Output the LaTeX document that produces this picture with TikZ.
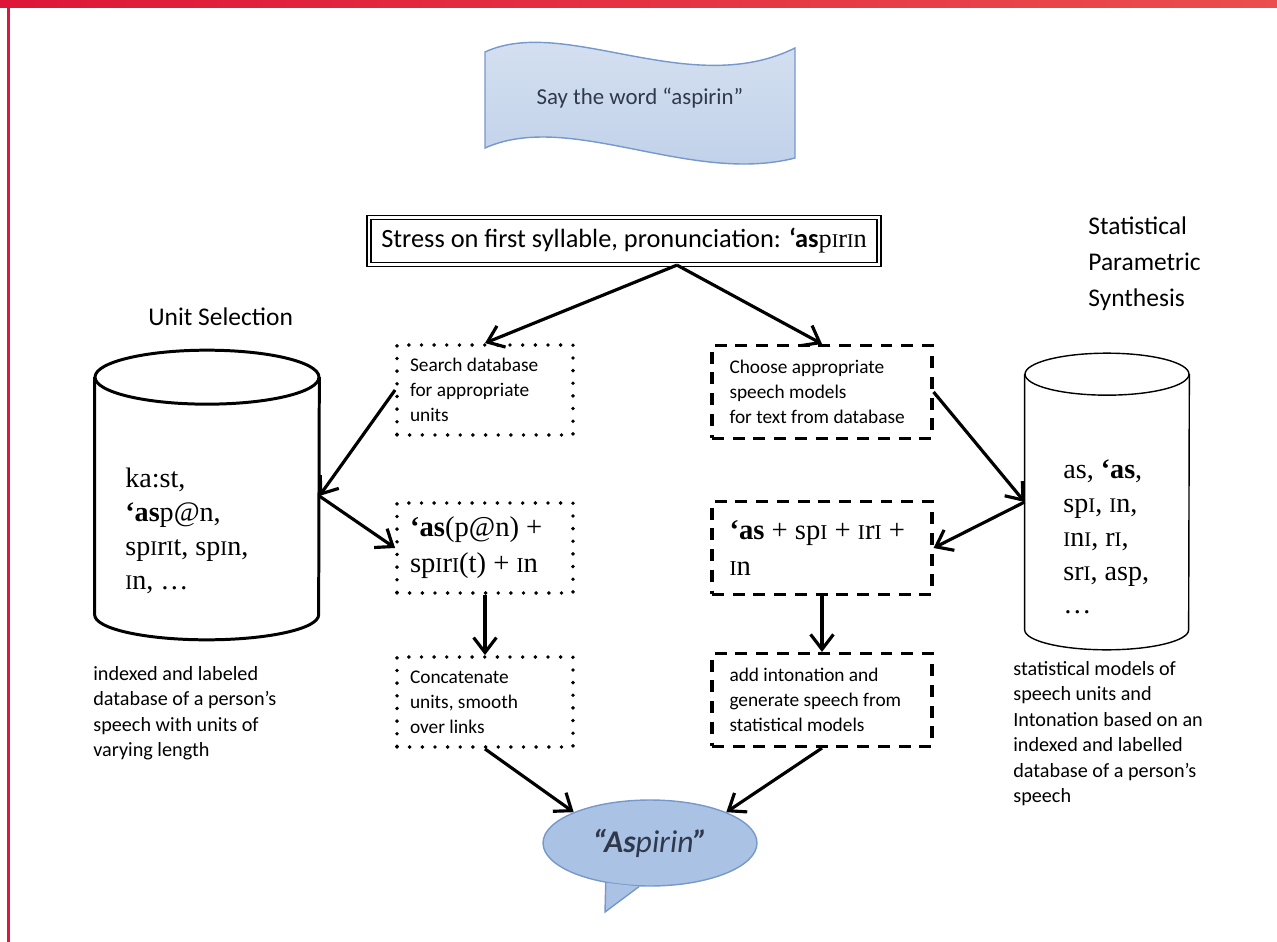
\documentclass[tikz,border=0pt]{standalone}
\usepackage{fontspec}
\setmainfont{Carlito}
\newfontfamily\phon{Liberation Serif}
\usetikzlibrary{shapes.geometric,arrows.meta}
\definecolor{framered}{RGB}{222,22,56}
\definecolor{framered2}{RGB}{234,78,78}
\definecolor{bannertop}{RGB}{216,227,242}
\definecolor{bannerbot}{RGB}{190,207,232}
\definecolor{blueline}{RGB}{118,152,204}
\definecolor{bubblefill}{RGB}{170,195,229}
\definecolor{slate}{RGB}{48,56,76}
\newcommand{\smI}{\scalebox{0.74}{I}}

\begin{document}
\begin{tikzpicture}[x=0.02cm,y=-0.02cm,
	arr/.style={line width=1.8pt,-{Straight Barb[length=8.5pt,width=13pt]}},
	dotbox/.style={draw,line width=2.2pt,dash pattern=on 0pt off 7.2pt,line cap=round,minimum width=3.52cm,minimum height=1.8cm,text width=3.0cm,align=flush left,inner sep=0pt,font=\fontsize{11}{14.2}\selectfont},
	dashbox/.style={draw,line width=1.8pt,dash pattern=on 6.8pt off 5pt,minimum width=4.4cm,minimum height=1.86cm,text width=3.7cm,align=flush left,inner sep=0pt,font=\fontsize{11}{14.2}\selectfont},
	phonbox/.style={font=\phon\fontsize{16.3}{20.5}\selectfont},
	heading/.style={align=left,inner sep=0pt,font=\fontsize{14.5}{20.5}\selectfont},
	descr/.style={align=left,inner sep=0pt,font=\fontsize{11.5}{14.5}\selectfont},
	dbtext/.style={align=left,inner sep=0pt,font=\phon\fontsize{16}{19.3}\selectfont}]
	\useasboundingbox (0,0) rectangle (1277,942);
	% frame
	\shade[left color=framered,right color=framered2] (0,0) rectangle (1277,8);
	\fill[framered] (7,0) rectangle (10,942);
	% banner
	\shade[top color=bannertop,bottom color=bannerbot,draw=blueline,line width=0.8pt]
		(485,52) .. controls (565,15) and (690,100) .. (795,48) -- (795,158)
		.. controls (690,185) and (570,110) .. (485,148) -- cycle;
	\node[text=slate,font=\fontsize{13}{15}\selectfont] (say) at (640,98) {Say the word “aspirin”};
	\node[draw,double,double distance=1.6pt,line width=0.7pt,minimum width=10.2cm,minimum height=0.94cm,inner sep=0pt,font=\fontsize{15}{17}\selectfont] (stress) at (624,241)
		{Stress on first syllable, pronunciation: \textbf{‘as}{\phon p\smI r\smI n}};
	\coordinate (split) at ([xshift=1.06cm]stress.south);
	% headings
	\node[heading,anchor=west] (unitsel) at (148,317) {Unit Selection};
	\node[heading,anchor=west] (statpar) at (1088,264) {Statistical\\Parametric\\Synthesis};
	% databases
	\node[minimum width=4.48cm,minimum height=4.74cm,inner sep=0pt] (leftdb) at (207,496) {};
	\draw[line width=1.7pt] (leftdb.north west) -- (leftdb.south west)
		arc[start angle=180,end angle=360,x radius=2.24cm,y radius=0.5cm] -- (leftdb.north east);
	\draw[line width=1.7pt] (leftdb.north) ellipse[x radius=2.24cm,y radius=0.54cm];
	\node[dbtext,anchor=west] (leftunits) at (125,531) {ka:st,\\\textbf{‘as}p@n,\\sp\smI r\smI t, sp\smI n,\\\smI n, …};
	\node[minimum width=3.28cm,minimum height=5.1cm,inner sep=0pt] (rightdb) at (1107,502) {};
	\draw[line width=0.8pt] (rightdb.north west) -- (rightdb.south west)
		arc[start angle=180,end angle=360,x radius=1.64cm,y radius=0.4cm] -- (rightdb.north east);
	\draw[line width=0.8pt] (rightdb.north) ellipse[x radius=1.64cm,y radius=0.42cm];
	\node[dbtext,anchor=west] (rightunits) at (1063,537) {as, \textbf{‘as},\\sp\smI, \smI n,\\\smI n\smI, r\smI,\\sr\smI, asp,\\…};
	\node[descr,anchor=north west] (leftdesc) at (93,666) {indexed and labeled\\database of a person’s\\speech with units of\\varying length};
	\node[descr,anchor=north west] (rightdesc) at (1013,661) {statistical models of\\speech units and\\Intonation based on an\\indexed and labelled\\database of a person’s\\speech};
	% unit selection steps
	\node[dotbox] (search) at (485,390) {Search database\\for appropriate\\units};
	\node[dotbox,phonbox] (joinunits) at (485,548) {\textbf{‘as}(p@n) +\\sp\smI r\smI(t) + \smI n};
	\node[dotbox] (concat) at (485,702) {Concatenate\\units, smooth\\over links};
	% parametric steps
	\node[dashbox] (choose) at (822,392) {Choose appropriate\\speech models\\for text from database};
	\node[dashbox,phonbox] (joinmodels) at (822,548) {\textbf{‘as} + sp\smI{} + \smI r\smI{} +\\\smI n};
	\node[dashbox] (intonation) at (822,700) {add intonation and\\generate speech from\\statistical models};
	% output
	\node[ellipse,fill=bubblefill,draw=blueline,line width=0.8pt,minimum width=4.28cm,minimum height=1.72cm,text=slate,font=\fontsize{18}{21}\selectfont] (aspirin) at (650,843)
		{\itshape\textbf{“As}pirin\textbf{”}};
	\coordinate (tailtip) at (605,912);
	\fill[bubblefill] (aspirin.222) -- (tailtip) -- (aspirin.256) -- cycle;
	\draw[blueline,line width=0.8pt] (aspirin.222) -- (tailtip) -- (aspirin.256);
	% connectors
	\draw[arr] (split) -- (search.north);
	\draw[arr] (split) -- (choose.north);
	\draw[arr] (search.west) -- (leftdb.east);
	\draw[arr] (leftdb.east) -- (joinunits.west);
	\draw[arr] (joinunits.south) -- (concat.north);
	\draw[arr] (concat.south) -- (aspirin.158);
	\draw[arr] (choose.east) -- (rightdb.west);
	\draw[arr] (rightdb.west) -- (joinmodels.east);
	\draw[arr] (joinmodels.south) -- (intonation.north);
	\draw[arr] (intonation.south) -- (aspirin.22);
\end{tikzpicture}
\end{document}
